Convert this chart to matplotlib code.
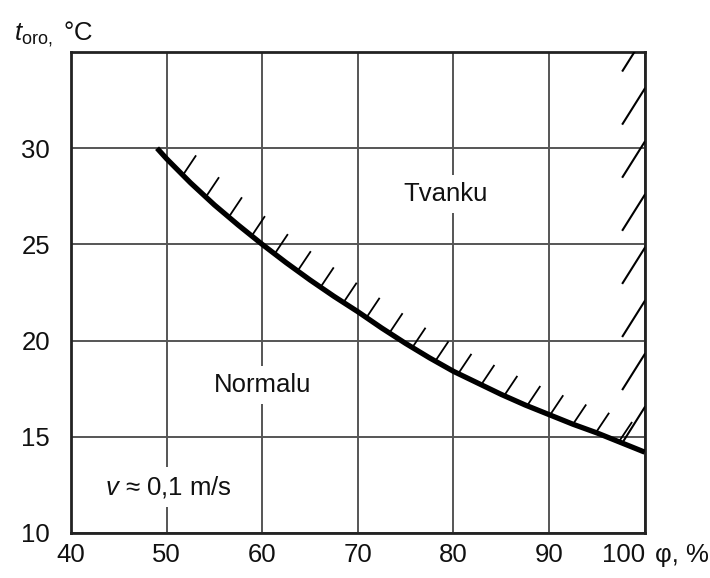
import matplotlib.pyplot as plt
import numpy as np

plt.rcParams['font.family'] = ['Liberation Sans', 'DejaVu Sans']
plt.rcParams['mathtext.fontset'] = 'custom'
plt.rcParams['mathtext.rm'] = 'Liberation Sans'
plt.rcParams['mathtext.it'] = 'Liberation Sans:italic'

# boundary curve
phi = [49, 50, 52.5, 55, 57.5, 60, 62.5, 65, 67.5, 70, 72.5, 75,
       77.5, 80, 82.5, 85, 87.5, 90, 92.5, 95, 97.5, 100]
t_oro = [30.0, 29.45, 28.2, 27.05, 26.0, 25.0, 24.05, 23.15, 22.3, 21.5, 20.65, 19.85,
         19.1, 18.4, 17.8, 17.2, 16.65, 16.15, 15.65, 15.2, 14.7, 14.2]

x_ticks = [40, 50, 60, 70, 80, 90, 100]
y_ticks = [10, 15, 20, 25, 30]
x_labels = ['40', '50', '60', '70', '80', '90', '100']
y_labels = ['10', '15', '20', '25', '30']

fs = 18.5

fig = plt.figure(figsize=(7.1, 5.78), dpi=100)
ax = fig.add_axes([0.1, 0.078, 0.808, 0.832])
ax.set_xlim(40, 100)
ax.set_ylim(10, 35)

ax.plot(phi, t_oro, color='black', lw=3.8, solid_capstyle='butt',
        solid_joinstyle='round', zorder=4)

# short hatch strokes above the curve
def stroke(x, y, dx, dy, lw):
    p = ax.transData.transform((x, y))
    q = ax.transData.inverted().transform(p + np.array([dx, dy]))
    ax.plot([x, q[0]], [y, q[1]], color='black', lw=lw, zorder=3)

for xh in np.arange(51.7, 99.0, 2.4):
    stroke(xh, np.interp(xh, phi, t_oro), 12.7, 19.0, 1.3)

# longer hatch strokes along the right edge
for yt in np.arange(35.85, 16.0, -2.76):
    p = ax.transData.transform((100, yt))
    q = ax.transData.inverted().transform(p - np.array([22.0, 35.0]))
    ax.plot([q[0], 100], [q[1], yt], color='black', lw=1.5, zorder=3)

ax.set_xticks(x_ticks)
ax.set_yticks(y_ticks)
ax.set_xticklabels(x_labels)
ax.set_yticklabels(y_labels)
ax.get_xticklabels()[-1].set_ha('right')
ax.tick_params(length=0, labelsize=fs, colors='#111111')
ax.tick_params(axis='x', pad=7)
ax.tick_params(axis='y', pad=15)
ax.grid(True, color='#555555', lw=1.4)
ax.set_axisbelow(True)
for s in ax.spines.values():
    s.set_linewidth(2.0)
    s.set_color('#222222')

box = dict(facecolor='white', edgecolor='none', pad=5)
ax.text(79.2, 27.6, 'Tvanku', fontsize=fs, color='#111111', ha='center', va='center',
        bbox=box, zorder=2.5)
ax.text(60.0, 17.7, 'Normalu', fontsize=fs, color='#111111', ha='center', va='center',
        bbox=box, zorder=2.5)
ax.text(50.2, 12.4, r'$v$ ≈ 0,1 m/s', fontsize=fs, color='#111111', ha='center',
        va='center', bbox=box, zorder=2.5)

fig.text(0.02, 0.931, r'$t_{\rm oro,}$ °C', fontsize=fs, color='#111111',
         ha='left', va='baseline')
fig.text(0.922, 0.028, 'φ, %', fontsize=fs, color='#111111', ha='left', va='baseline')

fig.savefig('out.png', dpi=100)
